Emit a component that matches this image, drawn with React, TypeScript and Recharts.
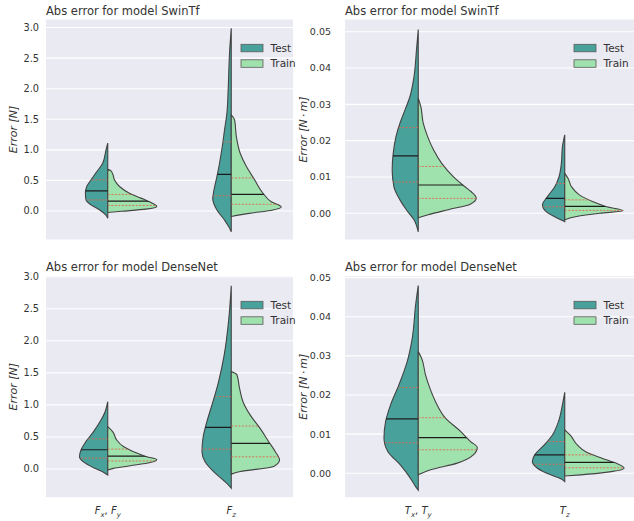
import React from 'react'
import { CartesianGrid, Curve, Scatter, ScatterChart, XAxis, YAxis } from 'recharts'

type Profile = ReadonlyArray<readonly [number, number]>
type Quartiles = readonly [number, number, number]

// colours
const TEST_FILL = '#48a29b'
const TRAIN_FILL = '#a0e2ad'
const EDGE = '#434343'
const BG = '#eaeaf2'
const TEXT = '#333333'
const FONT = '"DejaVu Sans", sans-serif'

const forceTicks = [0, 0.5, 1, 1.5, 2, 2.5, 3]
const torqueTicks = [0, 0.01, 0.02, 0.03, 0.04, 0.05]
const forceLabels = [[['F', 'x'], ['F', 'y']], [['F', 'z']]]
const torqueLabels = [[['T', 'x'], ['T', 'y']], [['T', 'z']]]

// violin outlines: [error value, half width in category units]
const swinFxyTest: Profile = [[-0.12, 0], [-0.065, 0.016], [0.016, 0.065], [0.1, 0.135], [0.18, 0.176], [0.29, 0.181], [0.4, 0.17], [0.51, 0.135], [0.62, 0.097], [0.78, 0.041], [1.0, 0.014], [1.11, 0]]
const swinFxyTrain: Profile = [[-0.025, 0], [-0.005, 0.113], [0.03, 0.308], [0.075, 0.397], [0.13, 0.357], [0.21, 0.27], [0.29, 0.176], [0.4, 0.095], [0.51, 0.054], [0.6, 0.041], [0.66, 0.024], [0.68, 0]]
const swinFzTest: Profile = [[-0.34, 0], [-0.28, 0.014], [-0.15, 0.054], [0.016, 0.116], [0.2, 0.15], [0.34, 0.14], [0.56, 0.116], [0.78, 0.095], [1.05, 0.073], [1.33, 0.054], [1.6, 0.035], [2.03, 0.024], [2.58, 0.014], [2.99, 0]]
const swinFzTrain: Profile = [[-0.09, 0], [-0.04, 0.146], [0.016, 0.338], [0.065, 0.405], [0.15, 0.324], [0.29, 0.257], [0.51, 0.189], [0.73, 0.122], [0.94, 0.073], [1.22, 0.041], [1.49, 0.027], [1.57, 0]]
const swinTxyTest: Profile = [[-0.0051, 0], [-0.0018, 0.029], [0.0009, 0.08], [0.0037, 0.125], [0.0073, 0.166], [0.0119, 0.178], [0.0165, 0.171], [0.0211, 0.152], [0.0248, 0.125], [0.0284, 0.091], [0.0321, 0.057], [0.0376, 0.029], [0.045, 0.012], [0.0506, 0]]
const swinTxyTrain: Profile = [[-0.0012, 0], [-0.0004, 0.068], [0.001, 0.205], [0.0025, 0.355], [0.0042, 0.396], [0.006, 0.36], [0.0073, 0.319], [0.0101, 0.239], [0.0138, 0.159], [0.0174, 0.105], [0.0211, 0.064], [0.0248, 0.034], [0.0293, 0.018], [0.0317, 0]]
const swinTzTest: Profile = [[-0.0023, 0], [-0.0014, 0.046], [0.0004, 0.125], [0.0023, 0.152], [0.0046, 0.118], [0.0073, 0.068], [0.0101, 0.039], [0.0138, 0.023], [0.0183, 0.016], [0.0216, 0]]
const swinTzTrain: Profile = [[-0.0018, 0], [-0.0009, 0.08], [0.0, 0.239], [0.0007, 0.398], [0.0018, 0.285], [0.0032, 0.193], [0.005, 0.102], [0.0073, 0.046], [0.0096, 0.023], [0.011, 0]]

const denseFxyTest: Profile = [[-0.094, 0], [-0.05, 0.035], [0.01, 0.103], [0.11, 0.197], [0.19, 0.229], [0.3, 0.216], [0.43, 0.176], [0.58, 0.116], [0.74, 0.062], [0.89, 0.022], [1.05, 0]]
const denseFxyTrain: Profile = [[-0.016, 0], [0.01, 0.046], [0.05, 0.181], [0.1, 0.343], [0.15, 0.397], [0.19, 0.316], [0.27, 0.208], [0.35, 0.127], [0.45, 0.073], [0.58, 0.041], [0.66, 0]]
const denseFzTest: Profile = [[-0.3, 0], [-0.25, 0.022], [-0.17, 0.067], [-0.04, 0.143], [0.11, 0.211], [0.27, 0.237], [0.48, 0.229], [0.74, 0.197], [1.05, 0.148], [1.36, 0.103], [1.78, 0.057], [2.3, 0.022], [2.86, 0]]
const denseFzTrain: Profile = [[-0.08, 0], [-0.04, 0.073], [0.04, 0.343], [0.14, 0.391], [0.27, 0.357], [0.43, 0.302], [0.63, 0.235], [0.84, 0.154], [1.05, 0.095], [1.26, 0.067], [1.47, 0.046], [1.52, 0]]
const denseTxyTest: Profile = [[-0.0043, 0], [-0.0034, 0.018], [-0.0013, 0.053], [0.0021, 0.121], [0.0055, 0.207], [0.009, 0.234], [0.0132, 0.223], [0.0175, 0.189], [0.0226, 0.132], [0.0286, 0.075], [0.0345, 0.041], [0.043, 0.018], [0.048, 0]]
const denseTxyTrain: Profile = [[-0.0004, 0], [0.0009, 0.084], [0.0026, 0.266], [0.0047, 0.376], [0.0066, 0.403], [0.0081, 0.357], [0.0107, 0.289], [0.0141, 0.186], [0.0183, 0.118], [0.0217, 0.08], [0.0251, 0.05], [0.0294, 0.023], [0.0311, 0]]
const denseTzTest: Profile = [[-0.0021, 0], [-0.0014, 0.027], [-0.0004, 0.096], [0.0013, 0.186], [0.003, 0.221], [0.0047, 0.205], [0.0072, 0.141], [0.0098, 0.084], [0.0132, 0.043], [0.0175, 0.016], [0.0207, 0]]
const denseTzTrain: Profile = [[-0.0007, 0], [-0.0004, 0.109], [0.0003, 0.292], [0.0013, 0.405], [0.0026, 0.348], [0.0038, 0.258], [0.0055, 0.143], [0.0072, 0.087], [0.0098, 0.036], [0.0111, 0]]

// [Q1, median, Q3] for test, then train
const swinFxyQ: Quartiles[] = [[0.18, 0.33, 0.51], [0.09, 0.16, 0.27]]
const swinFzQ: Quartiles[] = [[0.25, 0.6, 1.13], [0.11, 0.27, 0.54]]
const swinTxyQ: Quartiles[] = [[0.0086, 0.0158, 0.0236], [0.0041, 0.0078, 0.0129]]
const swinTzQ: Quartiles[] = [[0.0018, 0.0041, 0.0082], [0.0008, 0.0019, 0.0037]]
const denseFxyQ: Quartiles[] = [[0.17, 0.3, 0.47], [0.125, 0.2, 0.31]]
const denseFzQ: Quartiles[] = [[0.31, 0.65, 1.13], [0.19, 0.4, 0.67]]
const denseTxyQ: Quartiles[] = [[0.0078, 0.0139, 0.0219], [0.006, 0.0091, 0.0142]]
const denseTzQ: Quartiles[] = [[0.0023, 0.0047, 0.0081], [0.0014, 0.0028, 0.0047]]

interface Violin {
  test: Profile
  train: Profile
  q: Quartiles[]
}

const noShape = () => <g />

const violinLine = (clipId: string, fill: string) => (props: any) => {
  const pts = [...props.points].sort((a: any, b: any) => a.y - b.y)
  const base = pts[0].x
  return (
    <g>
      <defs>
        <clipPath id={clipId}>
          <Curve points={pts} type="monotone" layout="vertical" baseLine={base} />
        </clipPath>
      </defs>
      <Curve points={pts} type="monotone" layout="vertical" baseLine={base} fill={fill} stroke={EDGE} strokeWidth={1.1} />
    </g>
  )
}

const quartileLine = (clipId: string) => (props: any) => {
  const p = props.points
  return (
    <g clipPath={`url(#${clipId})`}>
      {[0, 1, 2].map((k) => (
        <line
          key={k}
          x1={p[2 * k].x}
          y1={p[2 * k].y}
          x2={p[2 * k + 1].x}
          y2={p[2 * k + 1].y}
          stroke={k === 1 ? '#1c1c1c' : '#dc6a50'}
          strokeWidth={k === 1 ? 1.2 : 0.9}
          strokeDasharray={k === 1 ? undefined : '2 1.5'}
        />
      ))}
    </g>
  )
}

function SubTick(props: any) {
  const { x, y, payload, labels } = props
  const parts: string[][] = labels[payload.value] ?? []
  const items: JSX.Element[] = []
  parts.forEach(([base, sub], i) => {
    if (i > 0) items.push(<tspan key={`c${i}`} dy={-3} fontStyle="normal">, </tspan>)
    items.push(<tspan key={`b${i}`}>{base}</tspan>)
    items.push(<tspan key={`s${i}`} dy={3} fontSize={7}>{sub}</tspan>)
  })
  return (
    <text x={x} y={y + 16} textAnchor="middle" fontFamily={FONT} fontSize={10} fontStyle="italic" fill={TEXT}>
      {items}
    </text>
  )
}

interface PanelProps {
  id: string
  left: number
  top: number
  width: number
  height: number
  marginTop: number
  marginRight: number
  yWidth: number
  tickMargin: number
  tickFont: number
  domain: [number, number]
  ticks: number[]
  digits: number
  violins: Violin[]
  xLabels?: string[][][]
}

function Panel(p: PanelProps) {
  const outlines = p.violins.flatMap((v, cat) => [
    <Scatter
      key={`t${cat}`}
      data={v.test.map(([val, w]) => ({ x: cat - w, y: val }))}
      line={violinLine(`${p.id}-${cat}-t`, TEST_FILL)}
      shape={noShape}
      legendType="none"
      isAnimationActive={false}
    />,
    <Scatter
      key={`r${cat}`}
      data={v.train.map(([val, w]) => ({ x: cat + w, y: val }))}
      line={violinLine(`${p.id}-${cat}-r`, TRAIN_FILL)}
      shape={noShape}
      legendType="none"
      isAnimationActive={false}
    />,
  ])
  const quartiles = p.violins.flatMap((v, cat) =>
    [-1, 1].map((dir, s) => (
      <Scatter
        key={`q${cat}${s}`}
        data={v.q[s].flatMap((val) => [{ x: cat, y: val }, { x: cat + dir * 0.45, y: val }])}
        line={quartileLine(`${p.id}-${cat}-${s === 0 ? 't' : 'r'}`)}
        shape={noShape}
        legendType="none"
        isAnimationActive={false}
      />
    )),
  )
  return (
    <div style={{ position: 'absolute', left: p.left, top: p.top }}>
      <ScatterChart
        width={p.width}
        height={p.height}
        margin={{ top: p.marginTop, right: p.marginRight, bottom: p.xLabels ? 0 : 15, left: 0 }}
      >
        <CartesianGrid vertical={false} stroke="#ffffff" strokeWidth={1.1} fill={BG} fillOpacity={1} />
        <XAxis
          type="number"
          dataKey="x"
          domain={[-0.5, 1.5]}
          ticks={[0, 1]}
          allowDataOverflow
          hide={!p.xLabels}
          height={23.3}
          axisLine={false}
          tickLine={false}
          tickSize={0}
          tickMargin={0}
          tick={<SubTick labels={p.xLabels} />}
        />
        <YAxis
          type="number"
          dataKey="y"
          domain={p.domain}
          ticks={p.ticks}
          allowDataOverflow
          width={p.yWidth}
          axisLine={false}
          tickLine={false}
          tickSize={0}
          tickMargin={p.tickMargin}
          tick={{ fontSize: p.tickFont, fill: TEXT, fontFamily: FONT }}
          tickFormatter={(v: number) => v.toFixed(p.digits)}
        />
        {outlines}
        {quartiles}
      </ScatterChart>
    </div>
  )
}

function Legend({ x, y }: { x: number; y: number }) {
  const rows = [
    { name: 'Test', fill: TEST_FILL, cy: y },
    { name: 'Train', fill: TRAIN_FILL, cy: y + 15.5 },
  ]
  return (
    <g>
      {rows.map((r) => (
        <g key={r.name}>
          <rect x={x} y={r.cy - 3.7} width={22} height={7.5} fill={r.fill} stroke="#5a5a5a" strokeWidth={0.8} />
          <text x={x + 29.5} y={r.cy + 3.8} fontFamily={FONT} fontSize={10.5} fill={TEXT}>
            {r.name}
          </text>
        </g>
      ))}
    </g>
  )
}

function YLabel({ x, y, text }: { x: number; y: number; text: string }) {
  return (
    <text
      x={x}
      y={y}
      transform={`rotate(-90 ${x} ${y})`}
      textAnchor="middle"
      fontFamily={FONT}
      fontSize={11}
      fontStyle="italic"
      fill={TEXT}
    >
      {text}
    </text>
  )
}

export default function App() {
  return (
    <div style={{ position: 'absolute', left: 0, top: 0, width: 634, height: 521, overflow: 'hidden', background: '#fff' }}>
      <Panel
        id="swinF"
        left={0}
        top={0}
        width={300}
        height={255}
        marginTop={19}
        marginRight={7}
        yWidth={46}
        tickMargin={7}
        tickFont={9.8}
        domain={[-0.475, 3.14]}
        ticks={forceTicks}
        digits={1}
        violins={[
          { test: swinFxyTest, train: swinFxyTrain, q: swinFxyQ },
          { test: swinFzTest, train: swinFzTrain, q: swinFzQ },
        ]}
      />
      <Panel
        id="swinT"
        left={294}
        top={0}
        width={346}
        height={255}
        marginTop={19}
        marginRight={2}
        yWidth={51}
        tickMargin={14}
        tickFont={9.5}
        domain={[-0.00735, 0.0535]}
        ticks={torqueTicks}
        digits={2}
        violins={[
          { test: swinTxyTest, train: swinTxyTrain, q: swinTxyQ },
          { test: swinTzTest, train: swinTzTrain, q: swinTzQ },
        ]}
      />
      <Panel
        id="denseF"
        left={0}
        top={255}
        width={300}
        height={266}
        marginTop={20.7}
        marginRight={7}
        yWidth={46}
        tickMargin={7}
        tickFont={9.8}
        domain={[-0.448, 3.016]}
        ticks={forceTicks}
        digits={1}
        violins={[
          { test: denseFxyTest, train: denseFxyTrain, q: denseFxyQ },
          { test: denseFzTest, train: denseFzTrain, q: denseFzQ },
        ]}
        xLabels={forceLabels}
      />
      <Panel
        id="denseT"
        left={294}
        top={255}
        width={346}
        height={266}
        marginTop={20.7}
        marginRight={2}
        yWidth={51}
        tickMargin={14}
        tickFont={9.5}
        domain={[-0.00624, 0.0505]}
        ticks={torqueTicks}
        digits={2}
        violins={[
          { test: denseTxyTest, train: denseTxyTrain, q: denseTxyQ },
          { test: denseTzTest, train: denseTzTrain, q: denseTzQ },
        ]}
        xLabels={torqueLabels}
      />
      <svg width={634} height={521} style={{ position: 'absolute', left: 0, top: 0, pointerEvents: 'none' }}>
        <text x={46} y={14.5} fontFamily={FONT} fontSize={11.5} fill={TEXT}>Abs error for model SwinTf</text>
        <text x={345} y={14.5} fontFamily={FONT} fontSize={11.5} fill={TEXT}>Abs error for model SwinTf</text>
        <text x={46} y={270.5} fontFamily={FONT} fontSize={11.5} fill={TEXT}>Abs error for model DenseNet</text>
        <text x={345} y={270.5} fontFamily={FONT} fontSize={11.5} fill={TEXT}>Abs error for model DenseNet</text>
        <YLabel x={17} y={129.5} text="Error [N]" />
        <YLabel x={307} y={129.5} text={'Error [N\u2009·\u2009m]'} />
        <YLabel x={17} y={386.7} text="Error [N]" />
        <YLabel x={307} y={386.7} text={'Error [N\u2009·\u2009m]'} />
        <Legend x={241} y={48} />
        <Legend x={574} y={48} />
        <Legend x={241} y={305} />
        <Legend x={574} y={305} />
      </svg>
    </div>
  )
}
